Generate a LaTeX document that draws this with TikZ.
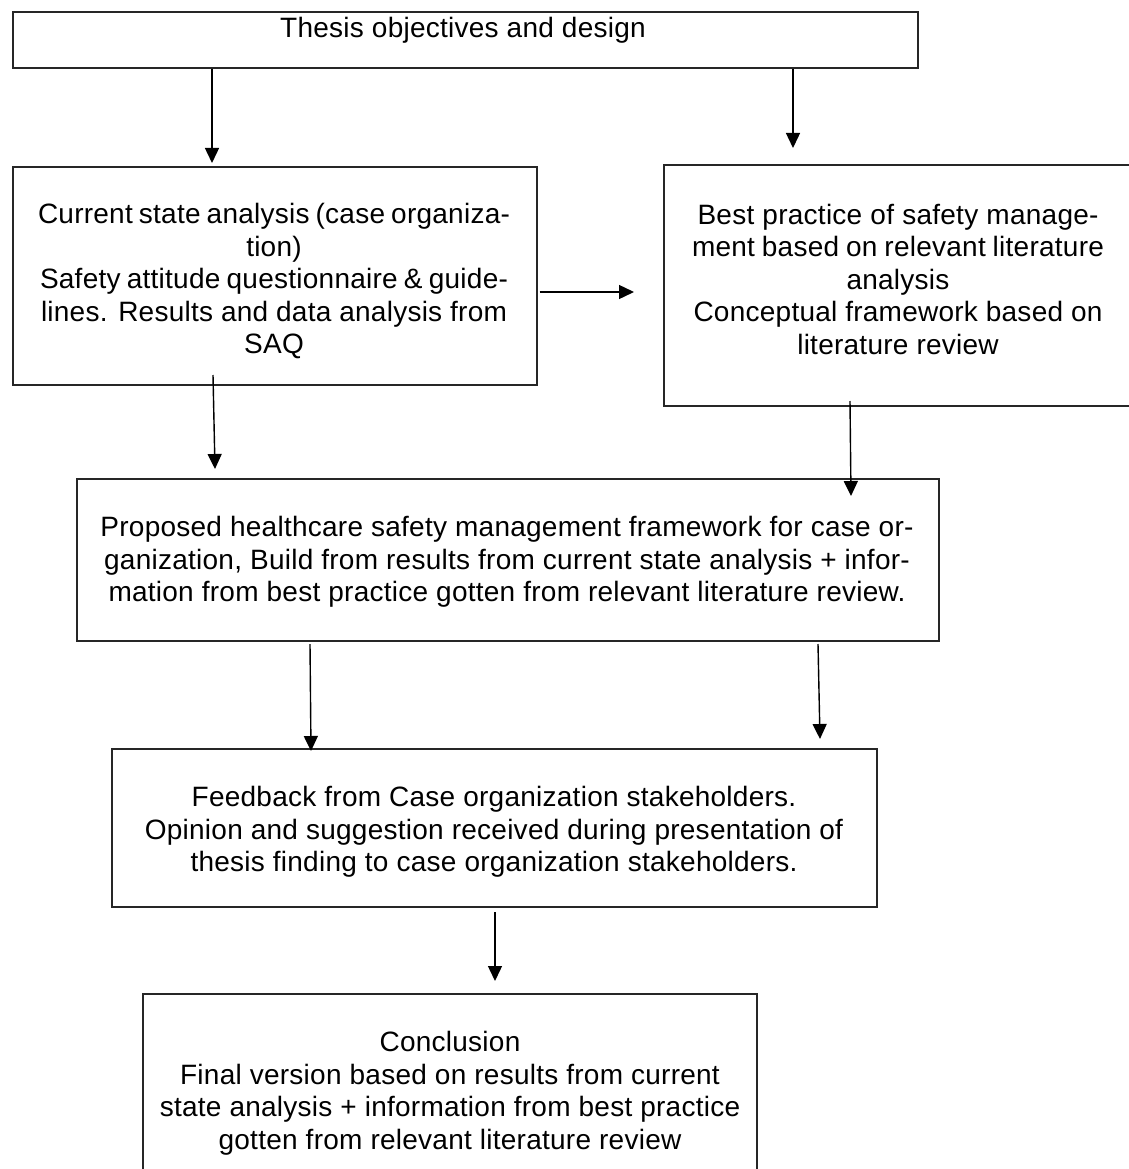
\documentclass[tikz,border=0pt]{standalone}
\usepackage{fontspec}
\setmainfont[LetterSpace=0.9]{Liberation Sans}
\usetikzlibrary{arrows.meta}
\begin{document}
\begin{tikzpicture}[x=1pt,y=-1pt,
  box/.style={draw=black!85, line width=1.7pt, inner sep=0pt, anchor=north west},
  txt/.style={align=center, inner sep=0pt, font=\fontsize{28}{32.5}\selectfont},
  arr/.style={draw=black, line width=1.4pt, -{Triangle[length=15pt,width=14pt]}}]
\useasboundingbox (0,0) rectangle (1128,1169);

% boxes
\node[box, minimum width=905pt, minimum height=56pt]  (top)  at (12,11)  {};
\node[box, minimum width=524pt, minimum height=218pt] (curr) at (12,166) {};
\node[box, minimum width=480pt, minimum height=241pt] (best) at (663,164) {};
\node[box, minimum width=862pt, minimum height=162pt] (prop) at (76,478) {};
\node[box, minimum width=765pt, minimum height=158pt] (feed) at (111,748) {};
\node[box, minimum width=614pt, minimum height=195pt] (conc) at (142,993) {};

% texts
\node[txt, anchor=base] (toptxt) at (463,38) {Thesis objectives and design};
\node[txt] (currtxt) at (274,281) {%
  \makebox[472pt][s]{Current state analysis (case organiza-}\\
  tion)\\
  \makebox[468pt][s]{Safety attitude questionnaire \& guide-}\\
  \makebox[466pt][s]{lines. Results and data analysis from}\\
  SAQ};
\node[txt] (besttxt) at (898,279) {%
  \makebox[401pt][s]{Best practice of safety manage-}\\
  \makebox[412pt][s]{ment based on relevant literature}\\
  analysis\\
  \makebox[409pt][s]{Conceptual framework based on}\\
  literature review};
\node[txt] (proptxt) at (507,562) {%
  Proposed healthcare safety management framework for case or-\\
  ganization, Build from results from current state analysis + infor-\\
  mation from best practice gotten from relevant literature review.};
\node[txt] (feedtxt) at (494,832) {%
  Feedback from Case organization stakeholders.\\
  Opinion and suggestion received during presentation of\\
  thesis finding to case organization stakeholders.};
\node[txt] (conctxt) at (450,1093) {%
  Conclusion\\
  Final version based on results from current\\
  state analysis + information from best practice\\
  gotten from relevant literature review};

% arrow end points
\coordinate (e1) at (212,163);
\coordinate (e2) at (793,148);
\coordinate (e3) at (634,292);
\coordinate (s4) at (213,375);
\coordinate (e4) at (215,469);
\coordinate (s5) at (850,401);
\coordinate (e5) at (851,496);
\coordinate (s6) at (310,644);
\coordinate (e6) at (311,751);
\coordinate (s7) at (818,644);
\coordinate (e7) at (820,739);
\coordinate (s8) at (495,912);
\coordinate (e8) at (495,981);

% connectors
\draw[arr] (top.south -| e1) -- (e1);
\draw[arr] (top.south -| e2) -- (e2);
\draw[arr] ([xshift=2pt]curr.east |- e3) -- (e3);
\draw[arr] (s4) -- (e4);
\draw[arr] (s5) -- (e5);
\draw[arr] (s6) -- (e6);
\draw[arr] (s7) -- (e7);
\draw[arr] (s8) -- (e8);
\end{tikzpicture}
\end{document}
